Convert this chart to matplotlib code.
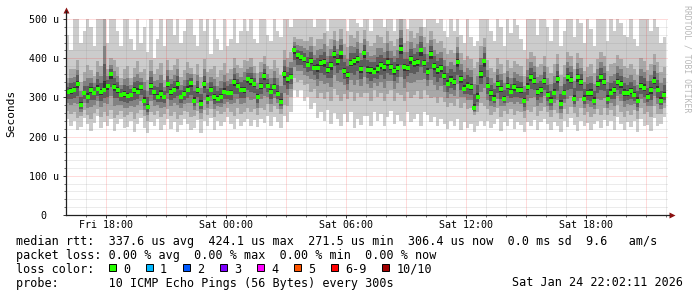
import numpy as np
import matplotlib
matplotlib.use("Agg")
import matplotlib.pyplot as plt

# smokeping rtt, one value per 10 minutes, Fri 16:00 -> Sat 22:00 (values in us)
step_h = 1 / 6

median = [
    314, 316, 320, 335, 280, 310, 301, 320, 312, 322, 314, 320, 329, 359, 326, 320, 305, 309,
    303, 305, 320, 314, 326, 292, 276, 329, 314, 301, 309, 301, 333, 314, 320, 333, 301, 309,
    320, 337, 292, 318, 284, 333, 297, 320, 300, 297, 300, 314, 310, 312, 339, 330, 320, 318,
    346, 342, 335, 300, 329, 355, 330, 314, 326, 309, 288, 360, 346, 352, 420, 407, 403, 397,
    382, 394, 376, 375, 388, 390, 369, 382, 410, 394, 412, 367, 356, 388, 394, 398, 372, 414,
    370, 369, 365, 372, 382, 378, 390, 377, 367, 375, 424, 377, 374, 398, 388, 390, 420, 388,
    365, 411, 380, 369, 375, 354, 335, 345, 339, 390, 346, 322, 330, 326, 272, 301, 359, 392,
    330, 310, 297, 333, 322, 297, 329, 314, 326, 320, 318, 292, 327, 352, 343, 314, 318, 343,
    305, 292, 312, 346, 284, 310, 352, 345, 297, 352, 339, 297, 310, 312, 292, 333, 352, 340,
    297, 312, 318, 339, 333, 312, 310, 316, 305, 292, 329, 325, 301, 318, 343, 320, 292, 306,
]

ping_min = [
    245, 228, 240, 218, 225, 248, 232, 214, 235, 252, 222, 238, 226, 245, 215, 232, 246, 222,
    225, 240, 212, 232, 248, 222, 210, 238, 226, 244, 218, 230, 245, 220, 236, 212, 230, 244,
    232, 216, 222, 242, 210, 240, 226, 248, 218, 240, 226, 238, 250, 232, 220, 245, 228, 238,
    245, 226, 242, 224, 246, 234, 252, 228, 250, 238, 222, 252, 238, 262, 320, 300, 318, 292,
    300, 270, 285, 248, 262, 240, 268, 232, 260, 245, 228, 258, 238, 262, 222, 245, 230, 252,
    252, 228, 262, 240, 258, 226, 250, 265, 232, 255, 240, 228, 262, 236, 245, 258, 228, 262,
    255, 236, 250, 226, 246, 232, 220, 240, 228, 245, 218, 238, 222, 232, 212, 228, 240, 226,
    240, 222, 232, 245, 215, 238, 226, 245, 220, 238, 230, 212, 238, 226, 242, 218, 236, 245,
    232, 218, 238, 226, 212, 240, 224, 248, 230, 214, 240, 226, 235, 216, 232, 240, 222, 242,
    226, 240, 218, 250, 232, 216, 238, 224, 240, 212, 245, 226, 230, 214, 248, 226, 232, 250,
]

ping_lo = [
    265, 258, 262, 248, 252, 268, 256, 246, 260, 270, 250, 262, 252, 268, 248, 255, 266, 250,
    255, 262, 246, 260, 268, 252, 240, 264, 256, 266, 250, 258, 270, 252, 262, 246, 256, 266,
    262, 250, 252, 266, 244, 268, 256, 270, 250, 266, 258, 264, 272, 262, 252, 272, 258, 264,
    272, 262, 270, 256, 274, 268, 282, 262, 278, 270, 258, 280, 278, 300, 350, 340, 345, 332,
    335, 315, 322, 298, 312, 296, 315, 290, 322, 305, 292, 308, 295, 315, 292, 310, 300, 310,
    310, 292, 318, 300, 312, 290, 308, 318, 292, 310, 305, 290, 315, 298, 305, 316, 296, 318,
    305, 298, 300, 286, 300, 288, 276, 285, 278, 296, 272, 286, 270, 272, 255, 262, 285, 278,
    270, 256, 262, 272, 250, 266, 258, 270, 254, 266, 262, 248, 268, 262, 275, 252, 266, 276,
    262, 250, 268, 260, 246, 270, 258, 276, 260, 250, 272, 256, 264, 250, 258, 270, 256, 272,
    256, 268, 252, 280, 264, 250, 266, 256, 268, 246, 274, 258, 262, 250, 278, 258, 258, 272,
]

ping_hi = [
    350, 372, 372, 395, 340, 365, 382, 370, 355, 392, 380, 505, 372, 400, 395, 378, 350, 372,
    380, 350, 375, 392, 365, 372, 345, 395, 360, 372, 388, 345, 395, 370, 382, 398, 352, 370,
    390, 375, 360, 385, 352, 398, 365, 372, 380, 352, 370, 388, 362, 372, 400, 382, 375, 395,
    392, 400, 380, 362, 390, 405, 380, 372, 395, 375, 358, 420, 400, 415, 455, 450, 448, 445,
    445, 455, 430, 450, 448, 465, 430, 450, 470, 445, 475, 435, 428, 460, 452, 470, 440, 472,
    445, 432, 438, 460, 455, 440, 470, 445, 432, 450, 505, 440, 445, 470, 452, 465, 480, 455,
    440, 470, 450, 438, 445, 425, 410, 420, 412, 455, 412, 395, 405, 398, 375, 390, 430, 452,
    395, 375, 365, 400, 385, 362, 395, 375, 392, 385, 380, 355, 398, 415, 405, 378, 385, 405,
    378, 362, 385, 410, 358, 382, 415, 405, 372, 412, 400, 368, 378, 385, 362, 398, 415, 405,
    368, 385, 388, 408, 398, 380, 375, 385, 372, 358, 400, 392, 370, 385, 410, 390, 365, 378,
]

ping_max = [
    460, 420, 505, 510, 440, 470, 520, 480, 430, 515, 505, 520, 440, 505, 510, 470, 430, 505,
    510, 450, 420, 505, 440, 480, 415, 520, 400, 450, 505, 430, 505, 515, 460, 510, 440, 470,
    515, 505, 460, 430, 505, 470, 515, 410, 505, 450, 420, 505, 430, 450, 510, 440, 470, 510,
    470, 505, 450, 440, 510, 510, 460, 445, 505, 470, 455, 520, 505, 480, 520, 530, 510, 515,
    520, 510, 480, 530, 515, 505, 470, 510, 540, 525, 530, 505, 470, 520, 535, 490, 480, 530,
    510, 470, 500, 530, 515, 480, 525, 505, 470, 520, 540, 510, 475, 530, 520, 505, 530, 480,
    505, 530, 515, 490, 505, 470, 455, 510, 470, 510, 460, 440, 505, 455, 430, 445, 510, 520,
    505, 470, 445, 510, 480, 430, 515, 465, 510, 485, 450, 420, 505, 525, 510, 460, 505, 510,
    480, 445, 505, 520, 430, 470, 510, 500, 455, 515, 490, 440, 505, 475, 430, 500, 520, 505,
    445, 505, 470, 515, 490, 460, 455, 505, 450, 430, 510, 515, 505, 470, 520, 480, 440, 455,
]

tick_hours = [2, 8, 14, 20, 26]
tick_labels = ["Fri 18:00", "Sat 00:00", "Sat 06:00", "Sat 12:00", "Sat 18:00"]
y_ticks = [0, 100, 200, 300, 400, 500]
y_labels = ["0  ", "100 u", "200 u", "300 u", "400 u", "500 u"]

rtt_line = "median rtt:  337.6 us avg  424.1 us max  271.5 us min  306.4 us now  0.0 ms sd  9.6   am/s"
loss_line = "packet loss: 0.00 % avg  0.00 % max  0.00 % min  0.00 % now"
loss_labels = ["0", "1", "2", "3", "4", "5", "6-9", "10/10"]
loss_colors = ["#26ff00", "#00b8ff", "#0059ff", "#7e00ff", "#ff00ff", "#ff5500", "#ff0000", "#a00000"]
probe_line = "probe:       10 ICMP Echo Pings (56 Bytes) every 300s"
stamp = "Sat Jan 24 22:02:11 2026"

W, H = 697, 297
MONO = "DejaVu Sans Mono"


def put(x, y, s, **kw):
    # pixel position from the top-left corner
    kw.setdefault("family", MONO)
    return fig.text(x / W, 1 - y / H, s, **kw)


fig = plt.figure(figsize=(W / 100, H / 100), dpi=100)
fig.patch.set_facecolor("white")
ax = fig.add_axes([66 / W, 82 / H, 602 / W, 196 / H])
ax.set_xlim(0, 30.1)
ax.set_ylim(0, 500)

med = np.array(median, float)
pmin = np.array(ping_min, float)
plo = np.array(ping_lo, float)
phi = np.array(ping_hi, float)
pmax = np.array(ping_max, float)
n = len(med)
edges = np.arange(n + 1) * step_h


def smoke(lo, hi, color):
    ax.fill_between(edges, np.append(lo, lo[-1]), np.append(hi, hi[-1]),
                    step="post", color=color, linewidth=0, zorder=1)


# shades get darker towards the median
smoke(pmin, pmax, "#cccccc")
smoke(plo, phi, "#a8a8a8")
for k, c in [(0.6, "#828282"), (0.35, "#5c5c5c"), (0.12, "#323232")]:
    smoke(med - k * (med - plo), med + k * (phi - med), c)

# grid on top of the smoke, like rrdtool
for h in range(1, 31):
    major = (h - 2) % 3 == 0
    ax.axvline(h, color="#ff0000" if major else "#808080", alpha=0.28 if major else 0.3,
               lw=0.72, ls=(0, (1, 1)), zorder=2)
for v in range(20, 501, 20):
    major = v % 100 == 0
    ax.axhline(v, color="#ff0000" if major else "#808080", alpha=0.28 if major else 0.3,
               lw=0.72, ls=(0, (1, 1)), zorder=2)

ax.plot(edges[:-1] + step_h / 2, med, ls="none", marker="s", ms=2.2, mew=0,
        color=loss_colors[0], zorder=3)

for s in ax.spines.values():
    s.set_visible(False)
ax.plot([0, 0], [0, 1.04], transform=ax.transAxes, color="#202020", lw=0.9, clip_on=False, zorder=5)
ax.plot([0, 1.002], [0, 0], transform=ax.transAxes, color="#202020", lw=0.9, clip_on=False, zorder=5)
ax.plot(0, 1.045, marker="^", ms=4, color="#8b1010", mec="none", transform=ax.transAxes, clip_on=False)
ax.plot(1.007, 0, marker=">", ms=4, color="#8b1010", mec="none", transform=ax.transAxes, clip_on=False)

ax.set_xticks(tick_hours, tick_labels)
ax.set_xticks(range(1, 31), minor=True)
ax.set_yticks(y_ticks, y_labels)
ax.set_yticks(range(20, 501, 20), minor=True)
ax.tick_params(which="major", length=2.2, width=0.7, color="#333333", labelsize=7.2, pad=1.2)
ax.tick_params(axis="y", which="major", pad=2.9)
ax.tick_params(which="minor", length=1.4, width=0.6, color="#555555")
for lab in ax.get_xticklabels() + ax.get_yticklabels():
    lab.set_family(MONO)

put(11, 113, "Seconds", rotation=90, fontsize=8, ha="center", va="center")
put(687, 59, "RRDTOOL / TOBI OETIKER", rotation=270, fontsize=5.9, color="#b8b8b8",
    ha="center", va="center")

fs = 8.5
put(16, 245.5, rtt_line, fontsize=fs, va="baseline")
put(16, 259.5, loss_line, fontsize=fs, va="baseline")
put(16, 273, "loss color:", fontsize=fs, va="baseline")
bx = 108.5
for lab, col in zip(loss_labels, loss_colors):
    fig.patches.append(plt.Rectangle((bx / W, 1 - 271 / H), 7 / W, 7 / H, transform=fig.transFigure,
                                     facecolor=col, edgecolor="black", lw=0.7))
    put(bx + 14.5, 273, lab, fontsize=fs, va="baseline")
    bx += 37.1 + 7.13 * (len(lab) - 1)
put(16, 286.5, probe_line, fontsize=fs, va="baseline")
put(683, 286.5, stamp, fontsize=fs, va="baseline", ha="right")

fig.savefig("out.png", dpi=100)
